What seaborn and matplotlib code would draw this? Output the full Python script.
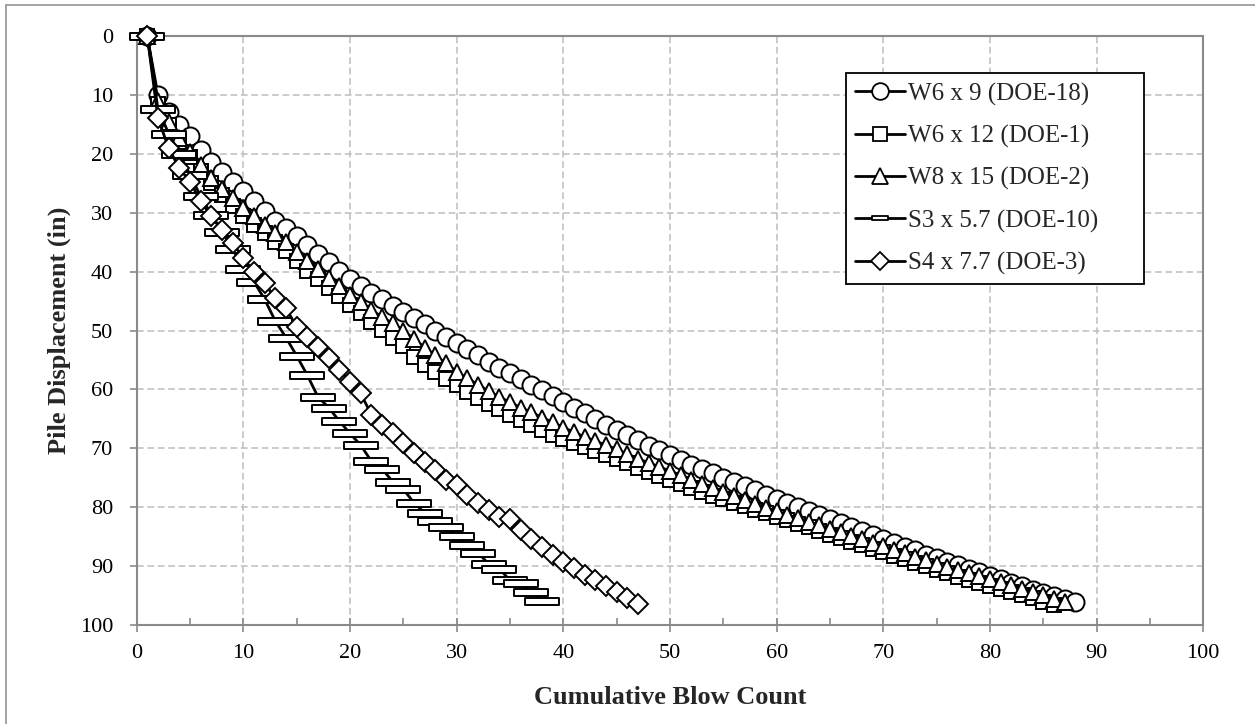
import matplotlib
matplotlib.use("Agg")
import matplotlib.pyplot as plt
from matplotlib.path import Path
from matplotlib.lines import Line2D
import pandas as pd
import seaborn as sns

# ---- data: pile displacement (in) after each blow, blow counts start at 1 ----
series_names = [
    "W6 x 9 (DOE-18)",
    "W6 x 12 (DOE-1)",
    "W8 x 15 (DOE-2)",
    "S3 x 5.7 (DOE-10)",
    "S4 x 7.7 (DOE-3)",
]

disp_w6x9 = [
    0, 10, 12.8, 15, 17, 19.3, 21.4, 23, 24.7, 26.3,
    28, 29.7, 31.3, 32.6, 33.9, 35.5, 37, 38.4, 39.8, 41.2,
    42.4, 43.6, 44.7, 45.8, 46.8, 47.8, 48.9, 50, 51.1, 52.1,
    53.2, 54.2, 55.3, 56.3, 57.3, 58.3, 59.3, 60.2, 61.2, 62.2,
    63.2, 64.1, 65.1, 66, 66.9, 67.8, 68.7, 69.6, 70.4, 71.2,
    72, 72.8, 73.6, 74.3, 75, 75.8, 76.5, 77.2, 77.9, 78.6,
    79.3, 80, 80.7, 81.4, 82.1, 82.8, 83.5, 84.1, 84.8, 85.5,
    86.1, 86.8, 87.4, 88.1, 88.7, 89.3, 89.9, 90.5, 91.1, 91.7,
    92.3, 92.9, 93.5, 94.1, 94.7, 95.2, 95.7, 96.1,
]
disp_w6x12 = [
    0, 11.5, 15, 18, 20.5, 22.8, 25, 27, 28.8, 30.5,
    32, 33.5, 35, 36.5, 38.2, 39.8, 41.3, 42.8, 44.2, 45.7,
    47.1, 48.5, 49.9, 51.3, 52.7, 54.5, 55.8, 57, 58.2, 59.3,
    60.4, 61.5, 62.5, 63.4, 64.3, 65.2, 66.1, 66.9, 67.7, 68.4,
    69.1, 69.8, 70.5, 71.2, 71.9, 72.6, 73.3, 74, 74.7, 75.4,
    76.1, 76.8, 77.5, 78.1, 78.7, 79.3, 79.9, 80.5, 81.1, 81.7,
    82.3, 82.9, 83.5, 84.1, 84.7, 85.3, 85.9, 86.5, 87.1, 87.7,
    88.3, 88.9, 89.5, 90.1, 90.7, 91.3, 91.9, 92.5, 93, 93.5,
    94, 94.5, 95, 95.5, 96.1, 96.7,
]
disp_w8x15 = [
    0, 11, 14.5, 17.3, 19.6, 21.8, 24, 25.9, 27.5, 29.2,
    30.6, 32, 33.5, 35, 36.7, 38.2, 39.6, 41, 42.5, 43.9,
    45.2, 46.5, 47.7, 48.8, 50, 51.4, 52.9, 54.2, 55.6, 57,
    58.1, 59.2, 60.3, 61.3, 62.2, 63.1, 63.9, 64.8, 65.6, 66.5,
    67.3, 68.1, 68.8, 69.5, 70.2, 71, 71.8, 72.5, 73.2, 73.9,
    74.6, 75.4, 76.1, 76.8, 77.5, 78.2, 78.8, 79.5, 80.1, 80.7,
    81.3, 81.9, 82.5, 83.1, 83.7, 84.3, 84.9, 85.5, 86.1, 86.7,
    87.3, 87.9, 88.5, 89.1, 89.7, 90.3, 90.8, 91.3, 91.8, 92.3,
    92.8, 93.3, 93.9, 94.5, 95, 95.6, 96.2,
]
disp_s3x57 = [
    0, 12.4, 16.5, 19.9, 23.5, 27.2, 30.3, 33.2, 36.1, 39.5,
    41.7, 44.7, 48.4, 51.2, 54.3, 57.6, 61.3, 63.1, 65.4, 67.5,
    69.5, 72.2, 73.5, 75.7, 77, 79.3, 81, 82.4, 83.5, 85,
    86.5, 87.8, 89.7, 90.5, 92.5, 93, 94.5, 96,
]
disp_s4x77 = [
    0, 13.9, 19, 22.4, 24.7, 28, 30.6, 32.9, 35.1, 37.7,
    40, 42, 44.5, 46.2, 49.4, 51.1, 52.8, 54.7, 56.7, 58.7,
    60.7, 64.3, 66, 67.5, 69.2, 70.8, 72.3, 73.8, 75.4, 76.3,
    78, 79.3, 80.6, 81.7, 82, 84, 85.4, 86.8, 88.1, 89.3,
    90.4, 91.5, 92.5, 93.5, 94.5, 95.5, 96.5,
]

x_ticks = [0, 10, 20, 30, 40, 50, 60, 70, 80, 90, 100]
y_ticks = [0, 10, 20, 30, 40, 50, 60, 70, 80, 90, 100]
x_label = "Cumulative Blow Count"
y_label = "Pile Displacement (in)"

all_disp = [disp_w6x9, disp_w6x12, disp_w8x15, disp_s3x57, disp_s4x77]
frames = []
for name, disp in zip(series_names, all_disp):
    frames.append(pd.DataFrame({
        "blows": range(1, len(disp) + 1),
        "disp": disp,
        "pile": name,
    }))
df = pd.concat(frames, ignore_index=True)

# ---- style ----
sns.set_style("white")
plt.rcParams["font.family"] = ["Liberation Serif", "DejaVu Serif"]
plt.rcParams["mathtext.fontset"] = "stix"

AXIS_GREY = "#8a8a8a"
GRID_GREY = "#bdbdbd"

# wide, flat bar used as the S3 marker
dash_marker = Path(
    [(-1, -0.21), (1, -0.21), (1, 0.21), (-1, 0.21), (-1, -0.21)],
    [Path.MOVETO, Path.LINETO, Path.LINETO, Path.LINETO, Path.CLOSEPOLY],
)
marker_styles = {
    "W6 x 9 (DOE-18)": ("o", 13),
    "W6 x 12 (DOE-1)": ("s", 10.5),
    "W8 x 15 (DOE-2)": ("^", 12),
    "S3 x 5.7 (DOE-10)": (dash_marker, 24),
    "S4 x 7.7 (DOE-3)": ("D", 10),
}
legend_marker_sizes = {
    "W6 x 9 (DOE-18)": 12,
    "W6 x 12 (DOE-1)": 10,
    "W8 x 15 (DOE-2)": 11,
    "S3 x 5.7 (DOE-10)": 12,
    "S4 x 7.7 (DOE-3)": 9,
}

fig = plt.figure(figsize=(12.55, 7.24), dpi=100)
ax = fig.add_axes([0.1089, 0.1374, 0.8499, 0.8122])

for i, name in enumerate(series_names):
    marker, size = marker_styles[name]
    sns.lineplot(
        data=df[df["pile"] == name], x="blows", y="disp",
        ax=ax, color="black", linewidth=2.0,
        marker=marker, markersize=size,
        markerfacecolor="white", markeredgecolor="black",
        markeredgewidth=1.4, clip_on=False, zorder=3 + i,
        errorbar=None, legend=False,
    )

# ---- axes ----
ax.set_xlim(0, 100)
ax.set_ylim(100, 0)
ax.set_xticks(x_ticks)
ax.set_yticks(y_ticks)
ax.set_xticks([5, 15, 25, 35, 45, 55, 65, 75, 85, 95], minor=True)

ax.grid(True, which="major", color=GRID_GREY, linewidth=1.1,
        linestyle=(0, (4.4, 2.4)))
ax.set_axisbelow(True)

for side in ["left", "bottom", "top", "right"]:
    ax.spines[side].set_visible(True)
    ax.spines[side].set_color(AXIS_GREY)
    ax.spines[side].set_linewidth(1.5)

ax.tick_params(axis="x", which="major", direction="inout", length=9.5,
               width=1.2, color=AXIS_GREY, labelsize=16, pad=9,
               labelcolor="black", bottom=True)
ax.tick_params(axis="x", which="minor", direction="in", length=4.8,
               width=1.2, color=AXIS_GREY, bottom=True)
ax.tick_params(axis="y", which="major", direction="out", length=5,
               width=1.2, color=AXIS_GREY, labelsize=16, pad=12,
               labelcolor="black", left=True)

ax.set_xlabel(x_label, fontsize=19, fontweight="bold", va="center")
ax.set_ylabel(y_label, fontsize=19, fontweight="bold", va="center")
ax.xaxis.set_label_coords(0.5, -0.1236)
ax.yaxis.set_label_coords(-0.0724, 0.5)

# ---- legend ----
handles = []
for name in series_names:
    marker, _ = marker_styles[name]
    handles.append(Line2D(
        [], [], color="black", linewidth=2.0, marker=marker,
        markersize=legend_marker_sizes[name], markerfacecolor="white",
        markeredgecolor="black", markeredgewidth=1.3,
    ))
leg = ax.legend(
    handles, series_names,
    loc="upper left", bbox_to_anchor=(0.665, 0.53, 0.2794, 0.408),
    mode="expand", borderaxespad=0, fontsize=18,
    handlelength=2.0, handletextpad=0.1, labelspacing=0.77,
    borderpad=0.38, frameon=True, fancybox=False, shadow=False,
)
leg.get_frame().set_edgecolor("black")
leg.get_frame().set_linewidth(1.3)
leg.get_frame().set_facecolor("white")
leg.get_frame().set_alpha(1)
leg.set_zorder(20)

# chart-area border along the top and left edges
fig.add_artist(Line2D([6 / 1255, 1.0], [1 - 5 / 724, 1 - 5 / 724],
                      transform=fig.transFigure, color=AXIS_GREY, linewidth=1.1))
fig.add_artist(Line2D([6 / 1255, 6 / 1255], [0.0, 1 - 5 / 724],
                      transform=fig.transFigure, color=AXIS_GREY, linewidth=1.1))

fig.savefig("out.png", dpi=100)
